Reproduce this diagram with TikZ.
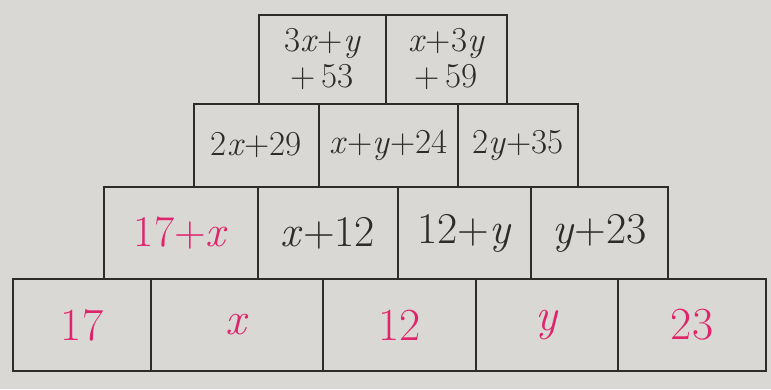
\documentclass[tikz,border=0pt]{standalone}
\usepackage{fontspec}
\definecolor{paper}{HTML}{DAD8D5}
\definecolor{ink}{HTML}{2E2C2B}
\definecolor{pinkink}{HTML}{E0246C}
\newcommand{\vx}{\textit{x}}
\newcommand{\vy}{\textit{y}}
\tikzset{
  cell/.style={draw=ink, line width=2pt, inner sep=0pt, anchor=north west, text=ink},
  given/.style={text=pinkink},
  big/.style={font=\fontsize{46}{50}\selectfont},
  mid/.style={font=\fontsize{44}{48}\selectfont},
  small/.style={font=\fontsize{35}{38}\selectfont},
  top/.style={font=\fontsize{35}{36}\selectfont, align=center},
}
\begin{document}
\begin{tikzpicture}[x=1pt,y=-1pt]
\useasboundingbox[fill=paper] (0,0) rectangle (771,389);
% row 1
\node[cell, top, minimum width=127pt, minimum height=89pt] (a1) at (258,14) {3\vx+\vy\\+\,53};
\node[cell, top, minimum width=121pt, minimum height=89pt] (a2) at (385,14) {\vx+3\vy\\+\,59};
% row 2
\node[cell, small, minimum width=125pt, minimum height=83pt] (b1) at (193,103) {2\vx+29};
\node[cell, small, minimum width=139pt, minimum height=83pt] (b2) at (318,103) {\vx+\vy+24};
\node[cell, small, minimum width=120pt, minimum height=83pt] (b3) at (457,103) {2\vy+35};
% row 3
\node[cell, mid, given, minimum width=154pt, minimum height=92pt] (c1) at (103,186) {17+\vx};
\node[cell, mid, minimum width=140pt, minimum height=92pt] (c2) at (257,186) {\vx+12};
\node[cell, mid, minimum width=133pt, minimum height=92pt] (c3) at (397,186) {12+\vy};
\node[cell, mid, minimum width=137pt, minimum height=92pt] (c4) at (530,186) {\vy+23};
% row 4
\node[cell, big, given, minimum width=138pt, minimum height=92pt] (d1) at (12,278) {17};
\node[cell, big, given, minimum width=172pt, minimum height=92pt] (d2) at (150,278) {\vx};
\node[cell, big, given, minimum width=153pt, minimum height=92pt] (d3) at (322,278) {12};
\node[cell, big, given, minimum width=142pt, minimum height=92pt] (d4) at (475,278) {\vy};
\node[cell, big, given, minimum width=148pt, minimum height=92pt] (d5) at (617,278) {23};
\end{tikzpicture}
\end{document}
